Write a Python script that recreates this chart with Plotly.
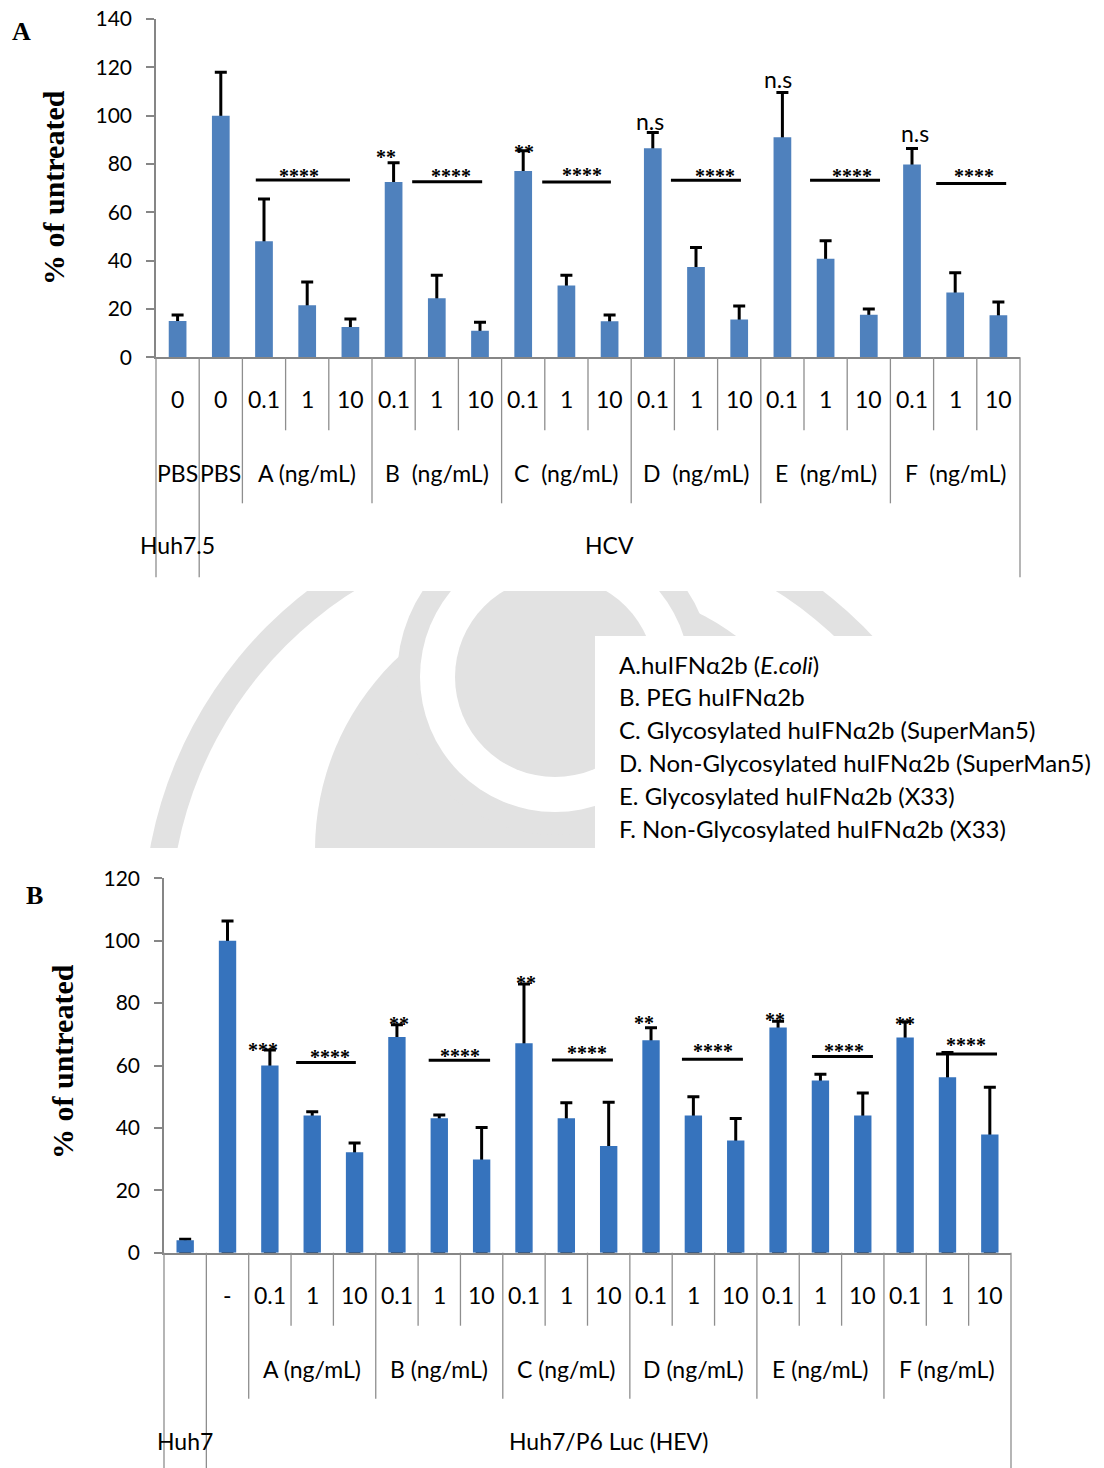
import plotly.graph_objects as go

W, H = 1104, 1468

# ---------------- Panel A : HCV ----------------
a_conc = ["0", "0", "0.1", "1", "10", "0.1", "1", "10", "0.1", "1", "10",
          "0.1", "1", "10", "0.1", "1", "10", "0.1", "1", "10"]
a_groups = [("PBS", 1), ("PBS", 1), ("A (ng/mL)", 3), ("B  (ng/mL)", 3),
            ("C  (ng/mL)", 3), ("D  (ng/mL)", 3), ("E  (ng/mL)", 3), ("F  (ng/mL)", 3)]
a_cells = [("Huh7.5", 1), ("HCV", 19)]
a_values = [15, 100, 48, 21.5, 12.5, 72.5, 24.4, 11, 77.1, 29.7, 14.9,
            86.5, 37.4, 15.6, 91.1, 40.8, 17.6, 79.8, 26.8, 17.4]
a_errors = [2.5, 18, 17.5, 9.7, 3.4, 8, 9.6, 3.5, 8.4, 4.3, 2.6,
            6.5, 8, 5.6, 18.5, 7.4, 2.4, 6.6, 8.2, 5.5]
a_ticks = [0, 20, 40, 60, 80, 100, 120, 140]

# significance bars (category positions) and labels
a_sig_x0 = [1.81, 5.43, 8.44, 11.42, 14.64, 17.56]
a_sig_x1 = [3.99, 7.05, 10.03, 13.04, 16.26, 19.18]
a_sig_y = [73.4, 72.7, 72.5, 73.3, 73.3, 71.9]
a_star_text = ["****", "****", "****", "****", "****", "****", "**", "**"]
a_star_x = [2.82, 6.33, 9.35, 12.44, 15.60, 18.43, 4.82, 8.01]
a_star_y = [76.9, 77.3, 77.6, 77.3, 77.3, 76.9, 85, 87.2]
a_ns_x = [10.94, 13.90, 17.07]
a_ns_y = [96.9, 114.5, 92]

# ---------------- Panel B : HEV ----------------
b_conc = ["", "-", "0.1", "1", "10", "0.1", "1", "10", "0.1", "1", "10",
          "0.1", "1", "10", "0.1", "1", "10", "0.1", "1", "10"]
b_groups = [("", 1), ("", 1), ("A (ng/mL)", 3), ("B (ng/mL)", 3),
            ("C (ng/mL)", 3), ("D (ng/mL)", 3), ("E (ng/mL)", 3), ("F (ng/mL)", 3)]
b_cells = [("Huh7", 1), ("Huh7/P6 Luc (HEV)", 19)]
b_values = [4, 100, 60, 44, 32.2, 69.1, 43.1, 29.9, 67.1, 43.1, 34.2,
            68.1, 44, 36, 72.2, 55.2, 44, 69, 56.2, 37.9]
b_errors = [0.3, 6.3, 5, 1.2, 3, 4, 1, 10.2, 19, 5, 14,
            4, 6, 7, 2, 2, 7.2, 5, 8, 15.1]
b_ticks = [0, 20, 40, 60, 80, 100, 120]

b_sig_x0 = [2.62, 5.75, 8.66, 11.73, 14.80, 17.73]
b_sig_x1 = [4.03, 7.20, 10.10, 13.17, 16.24, 19.17]
b_sig_y = [61.0, 61.7, 61.8, 62.0, 62.9, 63.7]
b_star_text = ["****", "****", "****", "****", "****", "****",
               "***", "**", "**", "**", "**", "**"]
b_star_x = [3.42, 6.48, 9.49, 12.46, 15.56, 18.43,
            1.83, 5.04, 8.04, 10.83, 13.93, 16.99]
b_star_y = [64.4, 64.7, 65.5, 66.2, 66.2, 68.1,
            66.5, 74.8, 87.9, 75.1, 76.2, 74.8]

legend_lines = [
    "A.huIFN\u03b12b (<i>E.coli</i>)",
    "B. PEG huIFN\u03b12b",
    "C. Glycosylated huIFN\u03b12b (SuperMan5)",
    "D. Non-Glycosylated huIFN\u03b12b (SuperMan5)",
    "E. Glycosylated huIFN\u03b12b (X33)",
    "F. Non-Glycosylated huIFN\u03b12b (X33)",
]

# ---------------- styling / layout geometry (pixels) ----------------
SANS = "Lato, 'Open Sans', sans-serif"
SERIF = "'Liberation Serif', 'Times New Roman', serif"
AXIS_GREY = "#868686"
DIV_GREY = "#8e8e8e"
ROW_OFFSETS = [42, 116, 188]        # label rows below the axis line
DIV_DEPTH = [73, 146, 220]          # divider length per hierarchy level


def px(x):
    return x / W


def py(y):
    return 1 - y / H


def paper_text(x, y, text, font, **kw):
    d = dict(xref="paper", yref="paper", x=px(x), y=py(y), text=text,
             showarrow=False, xanchor="center", yanchor="middle", font=font)
    d.update(kw)
    return d


panels = [
    dict(tag="A", xa="x", ya="y", xpx=(156, 1020), ypx=(19, 357.3), ymax=140,
         ticks=a_ticks, values=a_values, errors=a_errors, conc=a_conc,
         groups=a_groups, cells=a_cells, color="#4f81bd",
         sig_x0=a_sig_x0, sig_x1=a_sig_x1, sig_y=a_sig_y,
         star_text=a_star_text, star_x=a_star_x, star_y=a_star_y,
         ns_x=a_ns_x, ns_y=a_ns_y, letter_pos=(22, 32), title_pos=(53, 188)),
    dict(tag="B", xa="x2", ya="y2", xpx=(164, 1011), ypx=(878.3, 1252.7), ymax=120,
         ticks=b_ticks, values=b_values, errors=b_errors, conc=b_conc,
         groups=b_groups, cells=b_cells, color="#3673bd",
         sig_x0=b_sig_x0, sig_x1=b_sig_x1, sig_y=b_sig_y,
         star_text=b_star_text, star_x=b_star_x, star_y=b_star_y,
         ns_x=[], ns_y=[], letter_pos=(34, 895), title_pos=(62, 1062)),
]

fig = go.Figure()
shapes = []
annotations = []

# ---------------- faint background seal between the panels ----------------
SEAL = "#e2e2e2"
seal_discs = [  # (cx, cy, r, fill)
    (565, 925, 422, SEAL), (565, 925, 395, "white"),
    (580, 850, 265, SEAL),
    (555, 677, 158, SEAL), (555, 677, 135, "white"), (555, 677, 100, SEAL),
]
for cx, cy, r, col in seal_discs:
    shapes.append(dict(type="circle", xref="paper", yref="paper", layer="below",
                       x0=px(cx - r), x1=px(cx + r), y0=py(cy + r), y1=py(cy - r),
                       fillcolor=col, line=dict(width=0)))
# keep the seal to its strip
for y0, y1 in [(0, 591), (848, H)]:
    shapes.append(dict(type="rect", xref="paper", yref="paper", layer="below",
                       x0=0, x1=1, y0=py(y1), y1=py(y0),
                       fillcolor="white", line=dict(width=0)))
# white box holding the key
shapes.append(dict(type="rect", xref="paper", yref="paper", layer="below",
                   x0=px(595), x1=1, y0=py(848), y1=py(636),
                   fillcolor="white", line=dict(width=0)))
for i, line in enumerate(legend_lines):
    annotations.append(paper_text(617, 664 + 32.8 * i, line,
                                  dict(family=SANS, size=24, color="black"),
                                  xanchor="left"))

layout_axes = {}
for k, p in enumerate(panels):
    n = len(p["values"])
    cats = list(range(n))
    xa, ya = p["xa"], p["ya"]
    x0p, x1p = p["xpx"]
    ytp, ybp = p["ypx"]

    # transparent twin carrying the upward error bars, drawn underneath the bars
    fig.add_trace(go.Bar(x=cats, y=p["values"], xaxis=xa, yaxis=ya, width=0.41,
                         marker=dict(color="rgba(0,0,0,0)", line=dict(width=0)),
                         error_y=dict(type="data", symmetric=False, array=p["errors"],
                                      arrayminus=p["values"], color="black",
                                      thickness=3, width=6),
                         hoverinfo="skip", showlegend=False))
    fig.add_trace(go.Bar(x=cats, y=p["values"], xaxis=xa, yaxis=ya, width=0.41,
                         marker=dict(color=p["color"], line=dict(width=0)),
                         showlegend=False))

    sfx = "" if k == 0 else str(k + 1)
    layout_axes["xaxis" + sfx] = dict(
        domain=[px(x0p), px(x1p)], range=[-0.5, n - 0.5], anchor=ya,
        showticklabels=False, ticks="", showgrid=False, zeroline=False,
        showline=True, linecolor=AXIS_GREY, linewidth=1.5, fixedrange=True,
        automargin=False)
    layout_axes["yaxis" + sfx] = dict(
        domain=[py(ybp), py(ytp)], range=[0, p["ymax"]], anchor=xa,
        tickvals=p["ticks"], ticks="outside", ticklen=8, tickwidth=1.5,
        tickcolor=AXIS_GREY, showline=True, linecolor=AXIS_GREY, linewidth=1.5,
        showgrid=False, zeroline=False, ticklabelstandoff=10, automargin=False,
        tickfont=dict(family=SANS, size=21, color="black"), fixedrange=True)

    # ---- hierarchical category axis ----
    cw = (x1p - x0p) / n

    def spans_to_ids(spans):
        ids = []
        for gi, (_, cnt) in enumerate(spans):
            ids += [gi] * cnt
        return ids

    gid = spans_to_ids(p["groups"])
    cid = spans_to_ids(p["cells"])
    for b in range(n + 1):
        if b == 0 or b == n or cid[b - 1] != cid[b]:
            depth = DIV_DEPTH[2]
        elif gid[b - 1] != gid[b]:
            depth = DIV_DEPTH[1]
        else:
            depth = DIV_DEPTH[0]
        xb = x0p + b * cw
        shapes.append(dict(type="line", xref="paper", yref="paper",
                           x0=px(xb), x1=px(xb), y0=py(ybp), y1=py(ybp + depth),
                           line=dict(color=DIV_GREY, width=1.3)))

    label_font = dict(family=SANS, size=23, color="black")
    for i, lab in enumerate(p["conc"]):
        if lab:
            annotations.append(paper_text(x0p + (i + 0.5) * cw, ybp + ROW_OFFSETS[0],
                                          lab, label_font))
    for row, spans in ((1, p["groups"]), (2, p["cells"])):
        start = 0
        for lab, cnt in spans:
            if lab:
                annotations.append(paper_text(x0p + (start + cnt / 2) * cw,
                                              ybp + ROW_OFFSETS[row], lab, label_font))
            start += cnt

    # ---- significance marks ----
    for s0, s1, sy in zip(p["sig_x0"], p["sig_x1"], p["sig_y"]):
        shapes.append(dict(type="line", xref=xa, yref=ya, x0=s0, x1=s1, y0=sy, y1=sy,
                           line=dict(color="black", width=3)))
    for t, sx, sy in zip(p["star_text"], p["star_x"], p["star_y"]):
        annotations.append(dict(xref=xa, yref=ya, x=sx, y=sy, text="<b>" + t + "</b>",
                                showarrow=False, xanchor="center", yanchor="middle",
                                yshift=-5,
                                font=dict(family=SERIF, size=20, color="black")))
    for sx, sy in zip(p["ns_x"], p["ns_y"]):
        annotations.append(dict(xref=xa, yref=ya, x=sx, y=sy, text="n.s",
                                showarrow=False, xanchor="center", yanchor="middle",
                                yshift=2,
                                font=dict(family=SANS, size=23, color="black")))

    # ---- panel letter and axis title ----
    lx, ly = p["letter_pos"]
    annotations.append(paper_text(lx, ly, "<b>" + p["tag"] + "</b>",
                                  dict(family=SERIF, size=26, color="black")))
    tx, ty = p["title_pos"]
    annotations.append(paper_text(tx, ty, "<b>% of untreated</b>",
                                  dict(family=SERIF, size=30, color="black"),
                                  textangle=-90))

fig.update_layout(
    width=W, height=H,
    margin=dict(l=0, r=0, t=0, b=0, pad=0, autoexpand=False),
    paper_bgcolor="white", plot_bgcolor="rgba(0,0,0,0)",
    barmode="overlay", showlegend=False,
    shapes=shapes, annotations=annotations, **layout_axes)

fig.write_html("out.html")
